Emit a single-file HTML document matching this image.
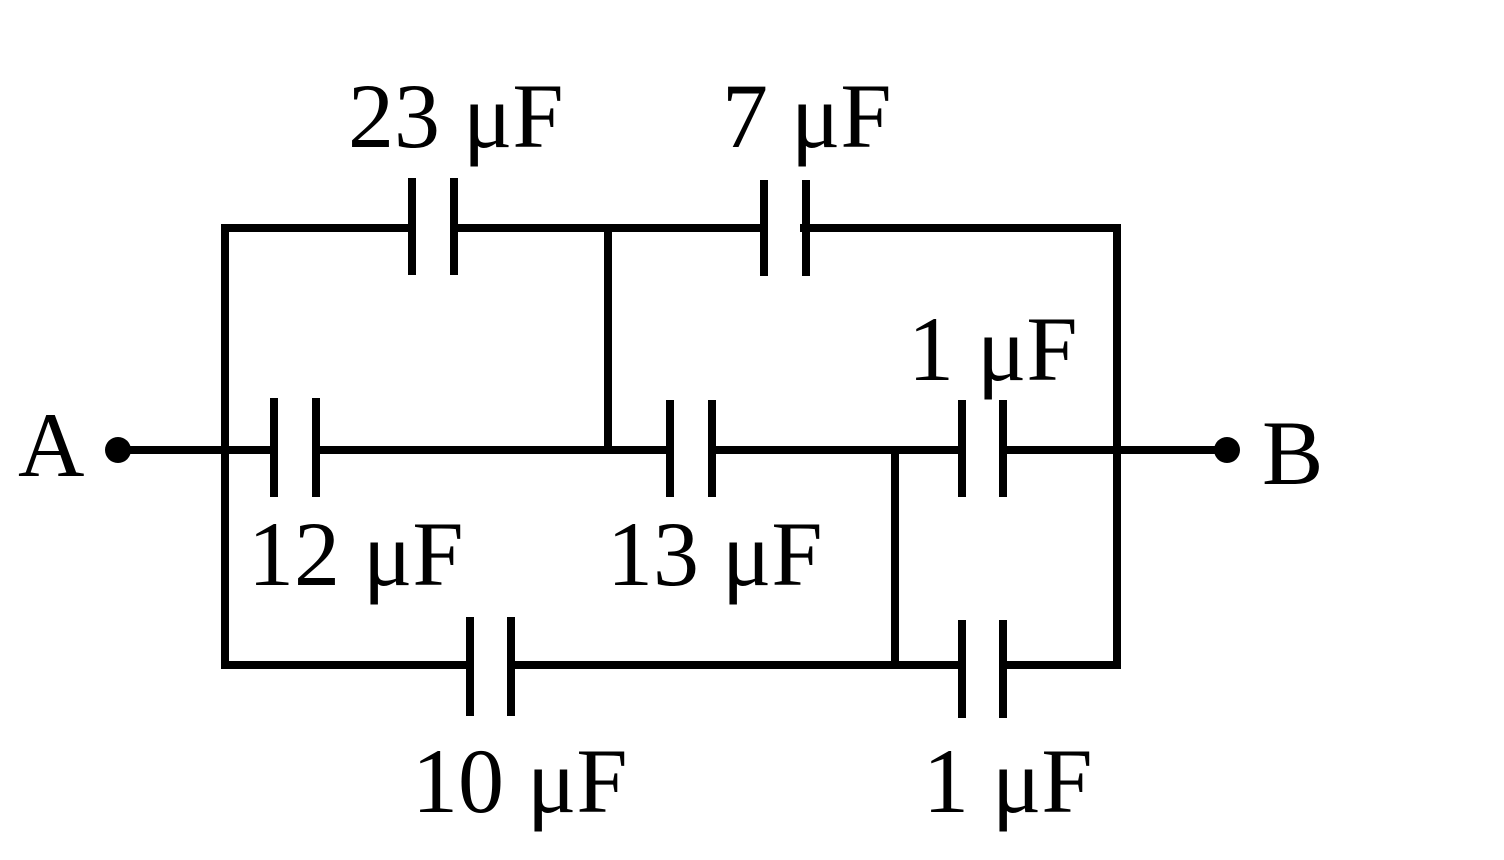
<!DOCTYPE html>
<html><head><style>body{margin:0;background:#fff}svg{display:block}
text{font-family:"Liberation Serif","Times New Roman",serif;font-size:92px}</style></head><body>
<svg width="1504" height="860" xmlns="http://www.w3.org/2000/svg">
<g stroke="#000" stroke-width="8" fill="none" stroke-linecap="square">
<path d="M225 228V665M1117 228V665M608 228V447M895 450V665"/>
<path d="M225 228H410M454 228H762M804 228H1117"/>
<path d="M118 450H272M316 450H670M712 450H962M1003 450H1227"/>
<path d="M225 665H470M511 665H962M1003 665H1117"/>
<path d="M412 182V271M454 182V271M764 184V272M806 184V272"/>
<path d="M274 402V493M316 402V493M670 404V493M712 404V493M962 404V493M1003 404V493"/>
<path d="M470 621V712M511 621V712M962 624V714M1003 624V714"/>
</g>
<circle cx="118" cy="450" r="13"/><circle cx="1227" cy="450" r="13"/>
<g fill="#000">
<text x="348" y="147">23 μF</text>
<text x="722" y="147">7 μF</text>
<text x="908" y="380">1 μF</text>
<text x="248" y="585">12 μF</text>
<text x="607" y="585">13 μF</text>
<text x="412" y="812">10 μF</text>
<text x="923" y="812">1 μF</text>
<text x="18" y="476">A</text>
<text x="1262" y="484">B</text>
</g>
</svg>
</body></html>
